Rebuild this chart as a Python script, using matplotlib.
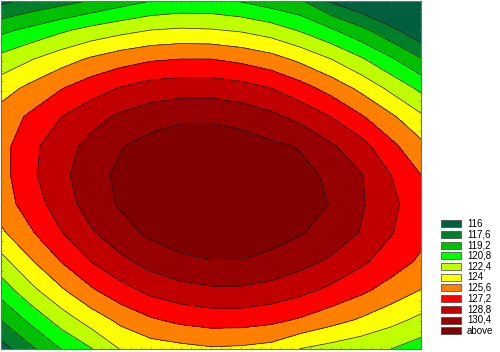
import numpy as np
import matplotlib
matplotlib.use('Agg')
import matplotlib.pyplot as plt
from matplotlib.patches import Rectangle

# surface values on a 15 x 13 grid (x left->right, y top->bottom)
x_nodes = [0, 30, 60, 90, 120, 150, 180, 210, 240, 270, 300, 330, 360, 390, 420]
y_nodes = [0, 29, 58, 87, 116, 145, 174, 203, 232, 261, 290, 319, 348]
z_rows = [
    [115.6, 116.4, 117.0, 117.7, 118.5, 119.2, 119.5, 119.5, 119.1, 118.4, 117.8, 115.8, 114.6, 113.2, 111.6],
    [118.8, 119.6, 120.5, 121.3, 121.9, 122.4, 122.6, 122.5, 122.2, 121.6, 120.6, 119.4, 118.0, 116.4, 114.7],
    [121.3, 122.3, 123.3, 124.2, 124.9, 125.4, 125.6, 125.6, 125.2, 124.6, 123.6, 122.4, 121.0, 119.4, 117.7],
    [123.3, 124.4, 125.5, 126.5, 127.3, 127.9, 128.1, 128.1, 127.8, 127.2, 126.2, 125.0, 123.6, 122.0, 120.4],
    [124.7, 125.9, 127.2, 128.2, 129.1, 129.7, 130.1, 130.1, 129.8, 129.2, 128.3, 127.2, 125.8, 124.3, 122.7],
    [125.0, 126.8, 128.1, 129.3, 130.3, 131.0, 131.4, 131.5, 131.2, 130.7, 130.3, 129.0, 127.8, 126.0, 124.4],
    [125.0, 126.9, 128.4, 129.7, 130.8, 131.5, 132.0, 132.2, 132.0, 131.5, 130.7, 130.2, 128.9, 127.2, 125.6],
    [124.8, 126.4, 128.0, 129.5, 130.6, 131.4, 132.0, 132.2, 132.0, 131.6, 130.9, 130.35, 129.0, 127.6, 126.2],
    [123.7, 125.4, 127.1, 128.6, 129.8, 130.7, 131.3, 131.5, 131.5, 131.1, 130.5, 129.8, 128.7, 127.3, 126.1],
    [121.8, 123.8, 125.6, 127.2, 128.4, 129.4, 130.0, 130.3, 130.3, 129.9, 129.3, 128.5, 127.5, 126.4, 125.3],
    [119.8, 121.9, 123.7, 125.3, 126.6, 127.6, 128.2, 128.5, 128.5, 128.2, 127.6, 126.8, 125.9, 124.9, 123.9],
    [117.6, 119.6, 121.5, 123.1, 124.4, 125.4, 126.0, 126.3, 126.3, 126.0, 125.4, 124.6, 123.8, 122.9, 122.0],
    [115.3, 117.3, 119.2, 120.7, 122.5, 123.2, 123.5, 123.8, 123.7, 123.4, 122.35, 121.8, 121.3, 120.8, 120.0],
]
levels = [116, 117.6, 119.2, 120.8, 122.4, 124, 125.6, 127.2, 128.8, 130.4]
labels = ['116', '117,6', '119,2', '120,8', '122,4', '124', '125,6', '127,2', '128,8', '130,4', 'above']
colors = ['#005F3F', '#007F2A', '#00BF00', '#00FF00', '#C0FF00', '#FFFF00',
          '#FF8000', '#FF0000', '#C00000', '#960000', '#800000']

Z = np.array(z_rows)
fig = plt.figure(figsize=(5, 3.52), dpi=100)
ax = fig.add_axes([1/500, 3/352, 420/500, 348/352])
ax.contourf(x_nodes, y_nodes, Z, levels=[0] + levels + [1000], colors=colors)
ax.contour(x_nodes, y_nodes, Z, levels=levels, colors='#101010', linewidths=0.5)
ax.set_xlim(0, 420)
ax.set_ylim(348, 0)
ax.set_xticks(np.arange(0, 421, 10))
ax.set_yticks(np.arange(0, 349, 10))
ax.tick_params(direction='in', length=1.5, width=0.4, colors='#707070', top=True, right=True,
               labelbottom=False, labelleft=False)
for s in ax.spines.values():
    s.set_color('#707070')
    s.set_linewidth(0.8)

for i, (c, lab) in enumerate(zip(colors, labels)):
    yc = 223.7 + 10.7 * i
    fig.add_artist(Rectangle((441/500, (352 - yc - 3.5)/352), 20/500, 7/352, transform=fig.transFigure,
                             facecolor=c, edgecolor='#404040', linewidth=0.5))
    fig.text(467/500, (352 - yc)/352, lab, fontsize=7, family='Liberation Sans', va='center', ha='left')

fig.savefig('out.png', dpi=100)
